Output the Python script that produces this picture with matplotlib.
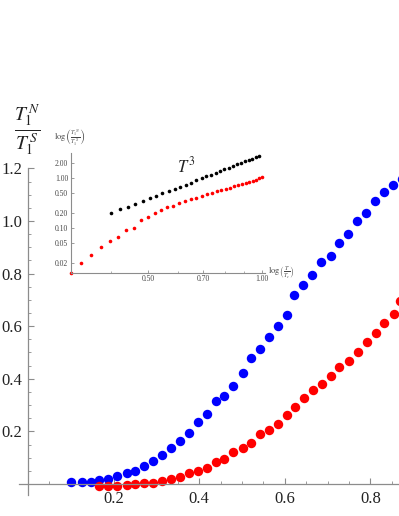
import numpy as np
import matplotlib
matplotlib.use('Agg')
import matplotlib.pyplot as plt
from matplotlib.ticker import FixedLocator, NullFormatter, FixedFormatter

plt.rcParams['font.family'] = ['Liberation Serif', 'DejaVu Serif']
plt.rcParams['mathtext.fontset'] = 'stix'

# main panel: T1N/T1S vs T/Tc
blue_x = [0.100, 0.125, 0.146, 0.167, 0.186, 0.209, 0.231, 0.250, 0.271, 0.293,
          0.313, 0.335, 0.355, 0.376, 0.398, 0.418, 0.439, 0.458, 0.480, 0.502,
          0.522, 0.543, 0.562, 0.583, 0.604, 0.622, 0.643, 0.664, 0.685, 0.707,
          0.726, 0.748, 0.768, 0.789, 0.811, 0.831, 0.852, 0.873]
blue_y = [0.006, 0.006, 0.009, 0.014, 0.019, 0.030, 0.043, 0.049, 0.068, 0.087,
          0.110, 0.136, 0.165, 0.193, 0.234, 0.266, 0.317, 0.336, 0.373, 0.423,
          0.480, 0.512, 0.558, 0.601, 0.643, 0.719, 0.757, 0.793, 0.845, 0.867,
          0.915, 0.951, 1.001, 1.032, 1.076, 1.109, 1.137, 1.160]

red_x = [0.167, 0.186, 0.209, 0.231, 0.250, 0.271, 0.293, 0.313, 0.335, 0.355,
         0.376, 0.398, 0.418, 0.439, 0.458, 0.480, 0.502, 0.522, 0.543, 0.562,
         0.583, 0.604, 0.624, 0.645, 0.665, 0.686, 0.708, 0.727, 0.749, 0.770,
         0.791, 0.813, 0.832, 0.854, 0.870]
red_y = [-0.008, -0.006, -0.006, -0.003, 0.001, 0.004, 0.005, 0.010, 0.018, 0.027,
         0.041, 0.048, 0.061, 0.085, 0.094, 0.123, 0.136, 0.155, 0.189, 0.205,
         0.228, 0.262, 0.294, 0.326, 0.357, 0.380, 0.411, 0.446, 0.469, 0.503,
         0.541, 0.573, 0.613, 0.646, 0.697]

# inset: log-log
inset_red_x = [0.313, 0.333, 0.354, 0.375, 0.396, 0.416, 0.437, 0.458, 0.480, 0.500,
               0.521, 0.543, 0.563, 0.583, 0.603, 0.626, 0.649, 0.672, 0.693, 0.715,
               0.737, 0.760, 0.781, 0.802, 0.824, 0.844, 0.865, 0.887, 0.907, 0.927,
               0.948, 0.967, 0.985, 1.002]
inset_red_y = [0.0126, 0.020, 0.0284, 0.0406, 0.055, 0.066, 0.090, 0.100, 0.143, 0.162,
               0.194, 0.226, 0.256, 0.275, 0.308, 0.337, 0.375, 0.398, 0.431, 0.466,
               0.501, 0.535, 0.568, 0.603, 0.631, 0.673, 0.715, 0.738, 0.783, 0.820,
               0.859, 0.899, 0.973, 1.019]

inset_black_x = [0.400, 0.421, 0.442, 0.463, 0.484, 0.505, 0.525, 0.546, 0.567, 0.588,
                 0.609, 0.630, 0.651, 0.672, 0.693, 0.714, 0.734, 0.755, 0.776, 0.797,
                 0.818, 0.839, 0.860, 0.881, 0.902, 0.923, 0.943, 0.964, 0.985]
inset_black_y = [0.194, 0.237, 0.263, 0.293, 0.341, 0.387, 0.437, 0.488, 0.542, 0.595,
                 0.655, 0.720, 0.790, 0.892, 0.976, 1.066, 1.156, 1.256, 1.361, 1.472,
                 1.590, 1.713, 1.842, 1.977, 2.119, 2.267, 2.414, 2.576, 2.745]

main_xticks = [0.2, 0.4, 0.6, 0.8]
main_yticks = [0.2, 0.4, 0.6, 0.8, 1.0, 1.2]
inset_xticks = [0.5, 0.7, 1.0]
inset_xlabels = ['0.50', '0.70', '1.00']
inset_yticks = [0.02, 0.05, 0.1, 0.2, 0.5, 1.0, 2.0]
inset_ylabels = ['0.02', '0.05', '0.10', '0.20', '0.50', '1.00', '2.00']

W, H = 399, 516
fig = plt.figure(figsize=(W / 100, H / 100), dpi=100)

axis_col = '#8c8c8c'

# main axes, spines crossing at origin
ax = fig.add_axes([18.6 / W, (H - 495) / H, (421.8 - 18.6) / W, (495 - 168.4) / H])
ax.set_xlim(-0.022, 0.92)
ax.set_ylim(-0.042, 1.2)
ax.patch.set_alpha(0)
for s in ['top', 'right']:
    ax.spines[s].set_visible(False)
ax.spines['left'].set_position(('data', 0))
ax.spines['bottom'].set_position(('data', 0))
for s in ['left', 'bottom']:
    ax.spines[s].set_color(axis_col)
    ax.spines[s].set_linewidth(0.9)

ax.plot(blue_x, blue_y, 'o', color='#0000ff', ms=6.8, mec='none')
ax.plot(red_x, red_y, 'o', color='#ff0000', ms=6.8, mec='none')

ax.xaxis.set_major_locator(FixedLocator(main_xticks))
ax.yaxis.set_major_locator(FixedLocator(main_yticks))
ax.xaxis.set_minor_locator(FixedLocator(np.arange(0.05, 0.92, 0.05)))
ax.yaxis.set_minor_locator(FixedLocator(np.arange(0.05, 1.2, 0.05)))
ax.set_xticklabels(['0.2', '0.4', '0.6', '0.8'])
ax.set_yticklabels(['0.2', '0.4', '0.6', '0.8', '1.0', '1.2'])
ax.tick_params(which='major', direction='in', length=4, width=0.8, color=axis_col,
               labelsize=12, labelcolor='#222222')
ax.tick_params(which='minor', direction='in', length=2.2, width=0.6, color=axis_col)
ax.tick_params(axis='y', which='major', pad=4)
ax.tick_params(axis='x', which='major', pad=5)

fig.text(27 / W, 1 - 130 / H, r'$\frac{T_1^{\,N}}{T_1^{\,S}}$', fontsize=20,
         ha='center', va='center', color='#222222')

# inset
ins = fig.add_axes([71 / W, (H - 272.7) / H, (265 - 71) / W, (272.7 - 153) / H])
ins.set_xscale('log')
ins.set_yscale('log')
ins.set_xlim(0.313, 1.02)
ins.set_ylim(0.0126, 3.12)
ins.patch.set_alpha(0)
for s in ['top', 'right']:
    ins.spines[s].set_visible(False)
for s in ['left', 'bottom']:
    ins.spines[s].set_color(axis_col)
    ins.spines[s].set_linewidth(0.8)

ins.plot(inset_black_x, inset_black_y, 'o', color='black', ms=2.6, mec='none', clip_on=False)
ins.plot(inset_red_x, inset_red_y, 'o', color='#ff0000', ms=2.6, mec='none', clip_on=False)

ins.xaxis.set_major_locator(FixedLocator(inset_xticks))
ins.xaxis.set_major_formatter(FixedFormatter(inset_xlabels))
ins.xaxis.set_minor_locator(FixedLocator([0.4, 0.6, 0.8, 0.9]))
ins.xaxis.set_minor_formatter(NullFormatter())
ins.yaxis.set_major_locator(FixedLocator(inset_yticks))
ins.yaxis.set_major_formatter(FixedFormatter(inset_ylabels))
ins.yaxis.set_minor_locator(FixedLocator([]))
ins.tick_params(which='major', direction='in', length=2.5, width=0.6, color=axis_col,
                labelsize=5.5, labelcolor='#444444', pad=2)
ins.tick_params(which='minor', direction='in', length=1.5, width=0.5, color=axis_col)

fig.text(268 / W, 1 - 272 / H, r'$\log\left(\frac{T}{T_c}\right)$', fontsize=6,
         ha='left', va='center', color='#444444')
fig.text(54 / W, 1 - 138 / H, r'$\log\left(\frac{T_1^{\,N}}{T_1^{\,S}}\right)$', fontsize=6,
         ha='left', va='center', color='#444444')
fig.text(186 / W, 1 - 166 / H, r'$T^3$', fontsize=12, ha='center', va='center',
         color='#222222')

fig.savefig('out.png', dpi=100)
